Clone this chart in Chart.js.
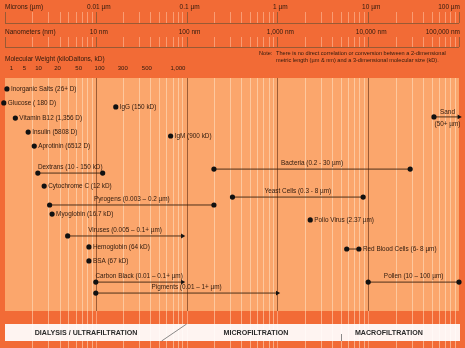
<!DOCTYPE html>
<html><head><meta charset="utf-8">
<script src="https://cdn.jsdelivr.net/npm/chart.js@4"></script>
<style>html,body{margin:0;padding:0;background:#F26B36;}canvas{display:block;}</style>
</head><body>
<canvas id="c" width="465" height="348"></canvas>
<script>
// ---- data ----
const micronTicks = [0.01, 0.1, 1, 10, 100];
const micronLabels = ['0.01 µm', '0.1 µm', '1 µm', '10 µm', '100 µm'];
const nmLabels = ['10 nm', '100 nm', '1,000 nm', '10,000 nm', '100,000 nm'];
const mwLabels = ['1', '5', '10', '20', '50', '100', '300', '500', '1,000'];
const mwMicrons = [0.00118, 0.00164, 0.00234, 0.00379, 0.00647, 0.0110, 0.0198, 0.0365, 0.0802];

const itemNames = [
  'Inorganic Salts (26+ D)', 'Glucose ( 180 D)', 'IgG (150 kD)', 'Sand|(50+ µm)',
  'Vitamin B12 (1,356 D)', 'Insulin (5808 D)', 'IgM (900 kD)', 'Aprotinin (6512 D)',
  'Bacteria (0.2 - 30 µm)', 'Dextrans (10 - 150 kD)', 'Cytochrome C (12 kD)',
  'Yeast Cells (0.3 - 8 µm)', 'Pyrogens (0.003 – 0.2 µm)', 'Myoglobin (16.7 kD)',
  'Polio Virus (2.37 µm)', 'Viruses (0.005 – 0.1+ µm)', 'Hemoglobin (64 kD)',
  'Red Blood Cells (6- 8 µm)', 'BSA (67 kD)', 'Carbon Black (0.01 – 0.1+ µm)',
  'Pollen (10 – 100 µm)', 'Pigments (0.01 – 1+ µm)'
];
const itemLow = [0.00105, 0.00097, 0.0166, 53, 0.0013, 0.0018, 0.0667, 0.0021,
  0.2, 0.0023, 0.0027, 0.32, 0.0031, 0.0033, 2.3, 0.0049, 0.0084, 5.8, 0.0084,
  0.01, 10, 0.01];
const itemHigh = [null, null, null, 100, null, null, null, null,
  29, 0.0119, null, 8.8, 0.2, null, null, 0.09, null, 7.9, null,
  0.09, 100, 1.0];
const itemArrow = [false, false, false, true, false, false, false, false,
  false, false, false, false, false, false, false, true, false, false, false,
  true, false, true];
const itemRow = [4.7, 10.7, 12.4, 16.7, 17.2, 23.2, 24.9, 29.2,
  39.1, 40.8, 46.4, 51.1, 54.5, 58.4, 60.9, 67.8, 72.5, 73.4, 78.5,
  87.6, 87.6, 92.3];
const itemLabelPos = ['right', 'right', 'right', 'split', 'right', 'right', 'right', 'right',
  'above', 'above', 'right', 'above', 'above', 'right', 'right', 'above', 'right',
  'right', 'right', 'above', 'above', 'above'];

const processNames = ['DIALYSIS / ULTRAFILTRATION', 'MICROFILTRATION', 'MACROFILTRATION'];
const processCenters = [0.0078, 0.58, 16.9];
const processDividers = [0.1, 5.0];

// ---- styles ----
const ORANGE = '#F26B36', PEACH = '#FBA66C', DARK = '#2E1A0E', BROWN = '#9A5A34';
const FONT = '"Liberation Sans", Arial, sans-serif';

const datasets = itemNames.map((n, i) => {
  const pts = [{x: itemLow[i], y: itemRow[i]}];
  const styles = ['circle'], rots = [0], radii = [2.6];
  if (itemHigh[i] !== null) {
    pts.push({x: itemHigh[i], y: itemRow[i]});
    styles.push(itemArrow[i] ? 'triangle' : 'circle');
    rots.push(itemArrow[i] ? 90 : 0);
    radii.push(itemArrow[i] ? 2.8 : 2.6);
  }
  return {
    label: n, data: pts, showLine: true, borderColor: '#3a2210', borderWidth: 0.9,
    backgroundColor: '#111', pointBorderColor: '#111', pointBackgroundColor: '#111',
    pointStyle: styles, pointRotation: rots, pointRadius: radii, pointBorderWidth: 0
  };
});

function minorVals() {
  const v = [];
  for (let e = -3; e < 2; e++) for (let m = 2; m <= 9; m++) v.push(m * Math.pow(10, e));
  return v;
}

const bgPlugin = {
  id: 'bg',
  beforeDraw(chart) {
    const ctx = chart.ctx, xs = chart.scales.x, a = chart.chartArea;
    const L = a.left, R = a.right;
    ctx.save();
    ctx.fillStyle = ORANGE; ctx.fillRect(0, 0, chart.width, chart.height);
    ctx.fillStyle = PEACH; ctx.fillRect(L, a.top, R - L, a.bottom - a.top);
    ctx.lineWidth = 1;
    minorVals().forEach(v => {
      const x = Math.round(xs.getPixelForValue(v)) + 0.5;
      ctx.strokeStyle = 'rgba(255,228,200,0.55)';
      ctx.beginPath(); ctx.moveTo(x, a.top); ctx.lineTo(x, chart.height); ctx.stroke();
    });
    micronTicks.slice(0, 4).forEach(v => {
      const x = Math.round(xs.getPixelForValue(v)) + 0.5;
      ctx.strokeStyle = 'rgba(140,80,45,0.85)';
      ctx.beginPath(); ctx.moveTo(x, a.top); ctx.lineTo(x, a.bottom); ctx.stroke();
      ctx.strokeStyle = 'rgba(255,210,180,0.5)';
      ctx.beginPath(); ctx.moveTo(x, a.bottom); ctx.lineTo(x, chart.height); ctx.stroke();
    });
    [[12, 23], [37, 47]].forEach(([t, b]) => {
      minorVals().forEach(v => {
        const x = Math.round(xs.getPixelForValue(v)) + 0.5;
        ctx.strokeStyle = 'rgba(255,205,175,0.5)';
        ctx.beginPath(); ctx.moveTo(x, t); ctx.lineTo(x, b); ctx.stroke();
      });
      [0.001].concat(micronTicks).forEach(v => {
        const x = Math.round(xs.getPixelForValue(v)) + 0.5;
        ctx.strokeStyle = BROWN;
        ctx.beginPath(); ctx.moveTo(x, t); ctx.lineTo(x, b); ctx.stroke();
      });
      ctx.strokeStyle = BROWN;
      ctx.beginPath(); ctx.moveTo(L, b + 0.5); ctx.lineTo(R, b + 0.5); ctx.stroke();
    });
    ctx.fillStyle = 'rgba(255,255,255,0.93)';
    ctx.fillRect(L, 324, R - L + 1, 17);
    ctx.strokeStyle = '#6d6d6d'; ctx.lineWidth = 0.8;
    const d = xs.getPixelForValue(processDividers[0]);
    ctx.beginPath(); ctx.moveTo(d, 324); ctx.lineTo(d - 25, 341); ctx.stroke();
    const m = Math.round(xs.getPixelForValue(processDividers[1])) + 0.5;
    ctx.beginPath(); ctx.moveTo(m, 334); ctx.lineTo(m, 341); ctx.stroke();
    ctx.fillStyle = '#2a2a2a';
    ctx.font = 'bold 7.1px ' + FONT; ctx.textAlign = 'center'; ctx.textBaseline = 'middle';
    processNames.forEach((n, i) => ctx.fillText(n, xs.getPixelForValue(processCenters[i]), 333));
    ctx.restore();
  },
  afterDatasetsDraw(chart) {
    const ctx = chart.ctx, xs = chart.scales.x, ys = chart.scales.y;
    const R = chart.chartArea.right;
    ctx.save();
    ctx.fillStyle = DARK; ctx.textBaseline = 'middle';
    ctx.font = '6.5px ' + FONT; ctx.textAlign = 'left';
    ctx.fillText('Microns (µm)', 5, 7);
    ctx.fillText('Nanometers (nm)', 5, 32);
    ctx.fillText('Molecular Weight (kiloDaltons, kD)', 5, 59);
    micronTicks.forEach((v, i) => {
      const last = i === micronTicks.length - 1;
      ctx.textAlign = last ? 'right' : 'center';
      const x = last ? R + 1 : xs.getPixelForValue(v) + 3;
      ctx.fillText(micronLabels[i], x, 7);
      ctx.fillText(nmLabels[i], x, 32);
    });
    ctx.font = '6px ' + FONT; ctx.textAlign = 'center';
    mwLabels.forEach((t, i) => ctx.fillText(t, xs.getPixelForValue(mwMicrons[i]), 68));
    ctx.font = '5.6px ' + FONT; ctx.textAlign = 'left';
    ctx.fillText('Note:', 259, 53);
    ctx.fillText('There is no direct correlation or conversion between a 2-dimensional', 276, 53);
    ctx.fillText('metric length (µm & nm) and a 3-dimensional molecular size (kD).', 276, 60);
    ctx.font = '6.4px ' + FONT;
    itemNames.forEach((n, i) => {
      const y = ys.getPixelForValue(itemRow[i]);
      const x1 = xs.getPixelForValue(itemLow[i]);
      const x2 = itemHigh[i] !== null ? xs.getPixelForValue(itemHigh[i]) : x1;
      const pos = itemLabelPos[i];
      if (pos === 'right') {
        ctx.textAlign = 'left'; ctx.fillText(n, Math.max(x1, x2) + 4, y);
      } else if (pos === 'above') {
        ctx.textAlign = 'center'; ctx.fillText(n, (x1 + x2) / 2, y - 5.5);
      } else {
        const parts = n.split('|');
        ctx.textAlign = 'center';
        ctx.fillText(parts[0], (x1 + x2) / 2 + 1, y - 5);
        ctx.fillText(parts[1], (x1 + x2) / 2 + 1, y + 7);
      }
    });
    ctx.restore();
  }
};

new Chart(document.getElementById('c'), {
  type: 'scatter',
  data: { datasets },
  options: {
    responsive: false, animation: false, devicePixelRatio: 1,
    layout: { padding: { left: 5, right: 6, top: 78, bottom: 37 } },
    plugins: { legend: { display: false }, tooltip: { enabled: false } },
    scales: {
      x: { type: 'logarithmic', min: 0.001, max: 100, display: false },
      y: { type: 'linear', min: 0, max: 100, reverse: true, display: false }
    },
    clip: false
  },
  plugins: [bgPlugin]
});
</script>
</body></html>
